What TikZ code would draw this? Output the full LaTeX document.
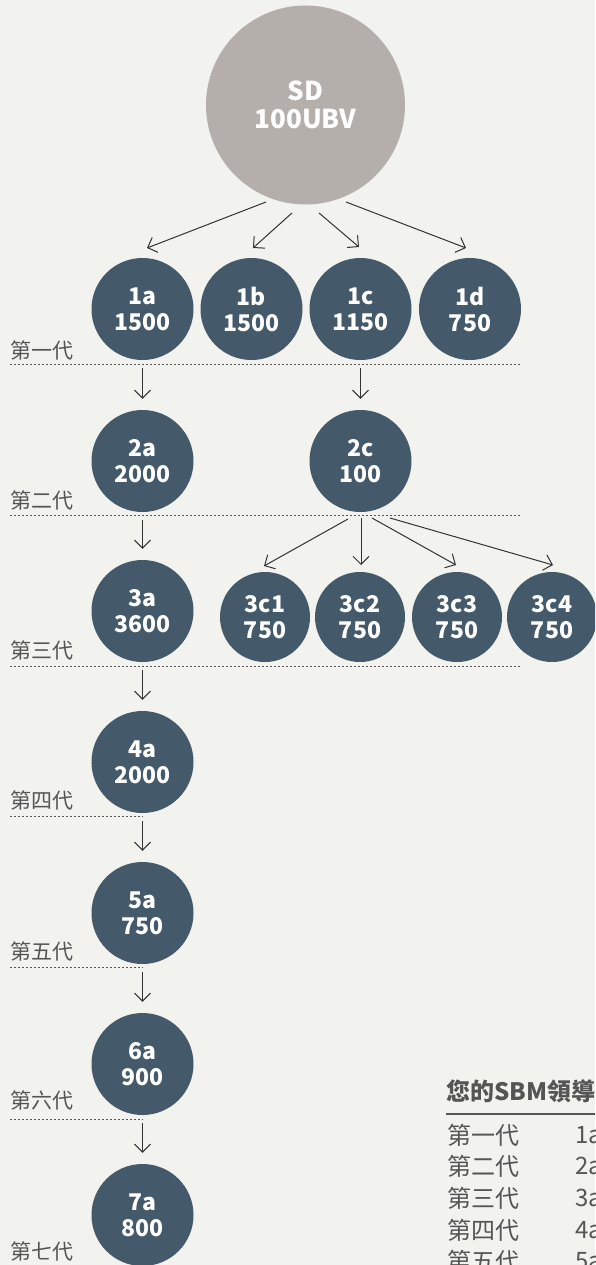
\documentclass[tikz,border=0pt]{standalone}
\usepackage{fontspec}
\setmainfont{Noto Sans CJK TC}
\usetikzlibrary{arrows.meta}
\definecolor{bg}{HTML}{F2F2EE}
\definecolor{nodec}{HTML}{44596A}
\definecolor{sdc}{HTML}{B5AFAB}
\definecolor{lbl}{HTML}{555555}
\definecolor{arrc}{HTML}{333333}
\begin{document}
\begin{tikzpicture}[x=1pt,y=-1pt,
  gen/.style={circle,fill=nodec,minimum size=102pt,inner sep=0pt,text=white,
    font=\bfseries\fontsize{23}{26}\selectfont,align=center},
  small/.style={gen,minimum size=90pt},
  root/.style={circle,fill=sdc,minimum size=199pt,inner sep=0pt,text=white,
    font=\bfseries\fontsize{26}{28}\selectfont,align=center},
  arr/.style={draw=arrc,line width=1pt,-{Straight Barb[length=8pt,width=16pt]}},
  varr/.style={arr,shorten <=8pt,shorten >=11pt},
  sepline/.style={draw=lbl,line width=1pt,dash pattern=on 2pt off 2pt},
  genlbl/.style={anchor=west,text=lbl,font=\fontsize{21}{21}\selectfont,inner sep=0pt},
  tabtitle/.style={anchor=west,text=lbl,font=\bfseries\fontsize{24}{24}\selectfont,inner sep=0pt},
  tabcell/.style={anchor=west,text=lbl,font=\fontsize{24}{24}\selectfont,inner sep=0pt}
]
\path[fill=bg,use as bounding box] (0,0) rectangle (595,1265);
\clip (0,0) rectangle (595,1265);

% root
\node[root] (sd) at (305.5,105) {SD\\100UBV};

% generation 1
\node[gen] (n1a) at (142.5,309) {1a\\1500};
\node[gen] (n1b) at (251.5,309) {1b\\1500};
\node[gen] (n1c) at (360.5,309) {1c\\1150};
\node[gen] (n1d) at (470,309) {1d\\750};

% generation 2
\node[gen] (n2a) at (142.5,461) {2a\\2000};
\node[gen] (n2c) at (360.5,461) {2c\\100};

% generation 3
\node[gen] (n3a) at (142.5,611) {3a\\3600};
\node[small] (n3c1) at (265,617) {3c1\\750};
\node[small] (n3c2) at (360,617) {3c2\\750};
\node[small] (n3c3) at (457,617) {3c3\\750};
\node[small] (n3c4) at (552,617) {3c4\\750};

% generations 4-7
\node[gen] (n4a) at (142.5,762) {4a\\2000};
\node[gen] (n5a) at (142.5,913) {5a\\750};
\node[gen] (n6a) at (142.5,1064) {6a\\900};
\node[gen] (n7a) at (142.5,1215) {7a\\800};

% generation labels
\node[genlbl] (g1) at (10,350) {第一代};
\node[genlbl] (g2) at (10,500) {第二代};
\node[genlbl] (g3) at (10,650) {第三代};
\node[genlbl] (g4) at (10,800) {第四代};
\node[genlbl] (g5) at (10,951) {第五代};
\node[genlbl] (g6) at (10,1100) {第六代};
\node[genlbl] (g7) at (10,1251) {第七代};

% separators
\path[sepline] (10,364) -- (520,364);
\path[sepline] (10,515) -- (520,515);
\path[sepline] (10,666) -- (520,666);
\path[sepline] (10,816) -- (143,816);
\path[sepline] (10,967) -- (143,967);
\path[sepline] (10,1119) -- (143,1119);

% arrows from root
\draw[arr] ([shift={(-39.5,97)}]sd.center) -- ([shift={(4.5,-61)}]n1a.center);
\draw[arr] ([shift={(-13.5,108)}]sd.center) -- ([shift={(1.5,-61)}]n1b.center);
\draw[arr] ([shift={(13.5,108)}]sd.center) -- ([shift={(-1.5,-62)}]n1c.center);
\draw[arr] ([shift={(40.5,97)}]sd.center) -- ([shift={(-4,-61)}]n1d.center);

% vertical arrows
\draw[varr] (n1a) -- (n2a);
\draw[varr] (n1c) -- (n2c);
\draw[varr] (n2a) -- (n3a);
\draw[varr] (n3a) -- (n4a);
\draw[varr] (n4a) -- (n5a);
\draw[varr] (n5a) -- (n6a);
\draw[varr] (n6a) -- (n7a);

% arrows from 2c
\draw[arr] ([shift={(-12.5,58)}]n2c.center) -- ([shift={(-1,-51)}]n3c1.center);
\draw[arr] ([shift={(0.5,57)}]n2c.center) -- ([shift={(1,-52)}]n3c2.center);
\draw[arr] ([shift={(11.5,57)}]n2c.center) -- ([shift={(-1,-52)}]n3c3.center);
\draw[arr] ([shift={(29.5,57)}]n2c.center) -- ([shift={(1,-52)}]n3c4.center);

% table
\node[tabtitle] (tt) at (446,1091) {您的SBM領導};
\draw[draw=lbl,line width=1.3pt] (446,1114) -- (600,1114);
\node[tabcell] (r1a) at (447,1135) {第一代};
\node[tabcell] (r1b) at (575,1135) {1a};
\node[tabcell] (r2a) at (447,1166) {第二代};
\node[tabcell] (r2b) at (575,1166) {2a};
\node[tabcell] (r3a) at (447,1198) {第三代};
\node[tabcell] (r3b) at (575,1198) {3a};
\node[tabcell] (r4a) at (447,1230) {第四代};
\node[tabcell] (r4b) at (575,1230) {4a};
\node[tabcell] (r5a) at (447,1261) {第五代};
\node[tabcell] (r5b) at (575,1261) {5a};
\end{tikzpicture}
\end{document}
